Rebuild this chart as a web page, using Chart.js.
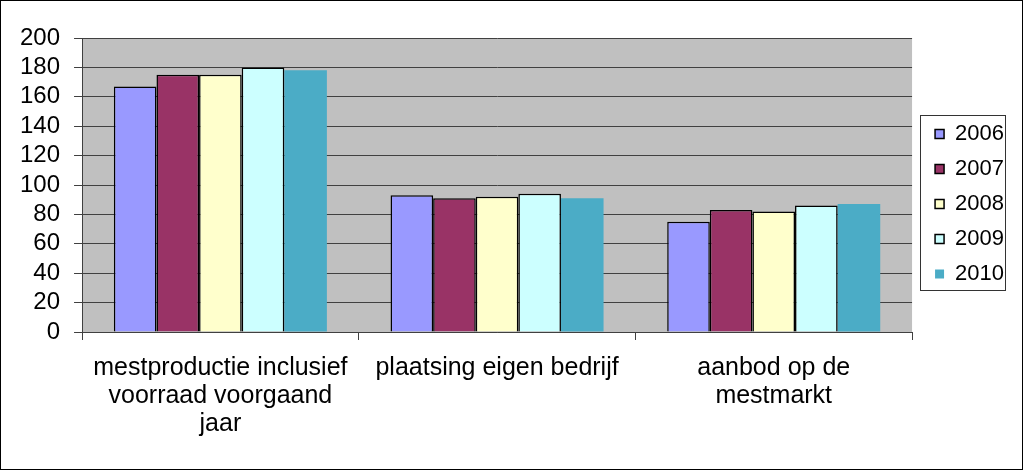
<!DOCTYPE html>
<html>
<head>
<meta charset="utf-8">
<script src="https://cdn.jsdelivr.net/npm/chart.js@4/dist/chart.umd.min.js"></script>
<style>
    html, body { margin: 0; padding: 0; background: #fff; }
    #wrap { width: 1024px; height: 471px; }
</style>
</head>
<body>
<div id="wrap"><canvas id="mestChart"></canvas></div>
<script>
const categories = [
    ['mestproductie inclusief', 'voorraad voorgaand', 'jaar'],
    ['plaatsing eigen bedrijf'],
    ['aanbod op de', 'mestmarkt']
];
const years = ['2006', '2007', '2008', '2009', '2010'];
const values2006 = [167, 93, 75];
const values2007 = [175, 91, 83];
const values2008 = [175, 92, 82];
const values2009 = [180, 94, 86];
const values2010 = [178, 91, 87];
const yTicks = [0, 20, 40, 60, 80, 100, 120, 140, 160, 180, 200];

const fills = ['#9999FF', '#993366', '#FFFFCC', '#CCFFFF', '#4BACC6'];
const borders = [1.5, 1.5, 1.5, 1.5, 0];
const series = [values2006, values2007, values2008, values2009, values2010];
const fontName = 'Liberation Sans, Arial, sans-serif';

// grey plot area, outer frame, legend box
const frame = {
    id: 'frame',
    afterLayout(chart) {
        // legend sits lower and a bit further right than Chart.js puts it
        const lg = chart.legend;
        const a = chart.chartArea;
        const dy = ((a.top + a.bottom) / 2 + 19) - (lg.top + lg.bottom) / 2;
        lg.top += dy;
        lg.bottom += dy;
        lg.left += 10;
        lg.right += 10;
    },
    beforeDraw(chart) {
        const c = chart.ctx;
        const a = chart.chartArea;
        c.save();
        c.fillStyle = '#fff';
        c.fillRect(0, 0, chart.width, chart.height);
        c.fillStyle = '#C0C0C0';
        c.fillRect(a.left, a.top, a.right - a.left, a.bottom - a.top);
        c.restore();
    },
    afterDraw(chart) {
        const c = chart.ctx;
        c.save();
        c.strokeStyle = '#000';
        c.lineWidth = 1;
        c.strokeRect(0.5, 0.5, chart.width - 2, chart.height - 2);
        const boxes = chart.legend.legendHitBoxes;
        if (boxes && boxes.length) {
            let l = Infinity, t = Infinity, r = -Infinity, b = -Infinity;
            boxes.forEach(h => {
                l = Math.min(l, h.left); t = Math.min(t, h.top);
                r = Math.max(r, h.left + h.width); b = Math.max(b, h.top + h.height);
            });
            c.strokeStyle = '#333';
            c.strokeRect(Math.round(l - 15) + 0.5, Math.round(t - 8) + 0.5,
                Math.round(r - l + 16), Math.round(b - t + 13));
        }
        c.restore();
    }
};

window.onload = () => {
    const ctx = document.getElementById('mestChart').getContext('2d');
    new Chart(ctx, {
        type: 'bar',
        data: {
            labels: categories,
            datasets: years.map((y, i) => ({
                label: y,
                data: series[i],
                backgroundColor: fills[i],
                borderColor: '#000',
                borderWidth: borders[i],
                categoryPercentage: 0.77,
                barPercentage: 1.0
            }))
        },
        options: {
            responsive: true,
            maintainAspectRatio: false,
            animation: false,
            layout: { padding: { left: 6, right: 20, top: 38, bottom: 19 } },
            plugins: {
                legend: {
                    position: 'right',
                    labels: {
                        color: '#000',
                        font: { family: fontName, size: 22 },
                        boxWidth: 9,
                        boxHeight: 9,
                        padding: 13
                    }
                },
                tooltip: { enabled: false }
            },
            scales: {
                x: {
                    grid: { offset: true, drawOnChartArea: false, tickLength: 8, color: '#404040' },
                    border: { color: '#404040' },
                    ticks: {
                        color: '#000',
                        font: { family: fontName, size: 25, lineHeight: 1.12 },
                        maxRotation: 0,
                        autoSkip: false,
                        padding: 14
                    }
                },
                y: {
                    min: 0,
                    max: 200,
                    afterBuildTicks: axis => { axis.ticks = yTicks.map(v => ({ value: v })); },
                    grid: { color: '#404040', tickLength: 8 },
                    border: { color: '#404040' },
                    ticks: {
                        color: '#000',
                        font: { family: fontName, size: 24 },
                        autoSkip: false,
                        padding: 14
                    }
                }
            }
        },
        plugins: [frame]
    });
};
</script>
</body>
</html>
